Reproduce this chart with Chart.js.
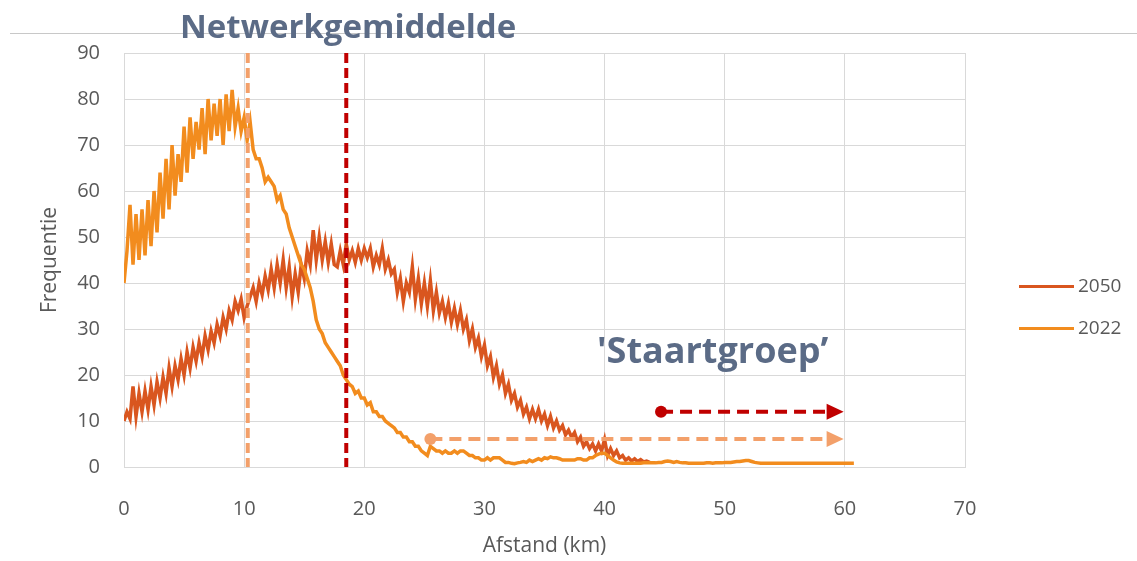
<!DOCTYPE html>
<html>
<head>
<meta charset="utf-8">
<script src="https://cdn.jsdelivr.net/npm/chart.js@4"></script>
<style>
  body { margin: 0; background: #fff; }
  #wrap { position: relative; width: 1137px; height: 561px; overflow: hidden; }
  #topline { position: absolute; left: 10px; right: 0; top: 33px; border-top: 1px solid #c8c8c8; }
  .big { position: absolute; font-family: "Open Sans", sans-serif; font-weight: bold; color: #5b6b86; white-space: nowrap; }
  #title { left: 180px; top: 3px; font-size: 33px; }
  #tail { left: 597px; top: 325px; font-size: 36px; }
  .leg { position: absolute; left: 1019px; font-family: "Open Sans", sans-serif; font-size: 19px; color: #595959; }
  .leg span { display: inline-block; width: 55px; height: 3px; vertical-align: middle; margin-right: 4px; }
  canvas { position: absolute; left: 0; top: 0; }
</style>
</head>
<body>
<div id="wrap">
  <canvas id="chart" width="1137" height="561"></canvas>
  <div id="topline"></div>
  <div id="title" class="big">Netwerkgemiddelde</div>
  <div id="tail" class="big">'Staartgroep’</div>
  <div class="leg" style="top:272px"><span style="background:#d9561f"></span>2050</div>
  <div class="leg" style="top:314px"><span style="background:#f28c1e"></span>2022</div>
</div>
<script>
// distance step between samples (km)
const stepKm = 0.25;

// Frequentie 2022, one value per 0.25 km from 0 km
const freq2022 = [
  40, 47, 57, 44, 55, 45, 56, 46, 58, 48, 60, 51, 64, 54, 67, 56,
  70, 59, 68, 62, 74, 64, 76, 67, 75, 69, 78, 68, 80, 71, 79, 72,
  80, 70, 81, 73, 82, 74, 78, 73, 76, 71, 75, 69, 67, 67, 65, 62,
  63, 62, 61, 58, 59, 56, 55, 52, 50, 48, 46, 44, 43, 41, 39, 36,
  32, 30, 29, 27, 26, 25, 24, 23, 22, 20, 19, 18, 17.5, 16, 16.5, 15,
  15, 13.5, 14, 12, 12, 11, 11, 10, 9.5, 9, 8.5, 7.5, 7.5, 6.5, 6.5, 5.5,
  5.5, 4.5, 4.5, 3.5, 3, 2.5, 4.5, 4, 3.5, 3.5, 3, 3.5, 3, 3, 3.5, 3,
  3.5, 3.5, 3, 2.5, 2.5, 2, 2, 1.5, 1.5, 2, 1.5, 2, 2, 2, 1.5, 1,
  1, 0.8, 0.7, 0.9, 1, 1.2, 1, 1.5, 1.2, 1.5, 1.8, 1.5, 2, 1.8, 2.2, 2,
  2, 1.8, 1.5, 1.5, 1.5, 1.5, 1.5, 1.8, 1.8, 1.5, 1.5, 2, 2, 2.5, 2.8, 3,
  3, 2.5, 2, 1.5, 1.1, 0.9, 0.8, 0.8, 0.8, 0.8, 0.8, 0.8, 0.8, 0.9, 0.9, 0.9,
  0.9, 0.9, 1, 1, 1.2, 1.3, 1.2, 1, 1.2, 1, 0.9, 0.9, 0.8, 0.8, 0.8, 0.8,
  0.8, 0.8, 0.9, 0.9, 0.8, 0.9, 0.9, 0.9, 1, 1, 1, 1.1, 1.2, 1.2, 1.3, 1.4,
  1.4, 1.2, 1, 0.9, 0.8, 0.8, 0.8, 0.8, 0.8, 0.8, 0.8, 0.8, 0.8, 0.8, 0.8, 0.8,
  0.8, 0.8, 0.8, 0.8, 0.8, 0.8, 0.8, 0.8, 0.8, 0.8, 0.8, 0.8, 0.8, 0.8, 0.8, 0.8,
  0.8, 0.8, 0.8, 0.8
];

// Frequentie 2050, one value per 0.25 km from 0 km
const freq2050 = [
  10, 12, 10.5, 17.5, 11, 16, 12, 16.5, 12.5, 17.5, 13.5, 18.5, 15, 19.5, 16, 21.5,
  17.5, 22, 19, 23.5, 20, 25, 21.5, 26, 23, 27, 24, 28.5, 25.5, 29.5, 27, 31,
  28.5, 32.5, 30, 34, 32, 36, 34, 36.5, 32.5, 35, 37, 39, 36, 40, 37.5, 41.5,
  38.5, 43, 39, 44, 40, 45, 39, 43.5, 37, 42, 38, 44, 41, 47, 44, 51.5,
  45, 50, 45, 49, 44.5, 48.5, 44, 43.5, 47, 44, 48.5, 45, 47, 44.5, 47.5, 45,
  47.5, 45.5, 47.5, 43.5, 46, 44, 47.5, 43, 45, 42, 43, 38, 41, 36, 40, 38,
  43.5, 36.5, 41, 35.5, 40, 35, 40.5, 34, 38, 33.5, 36, 32.5, 35.5, 31.5, 34.5, 31,
  34, 30, 32, 27.5, 30, 26, 28, 24, 26.5, 22, 24, 19.5, 22, 18, 20, 16,
  18, 14.5, 16, 13, 14.5, 11.5, 13, 10.5, 12.5, 10.5, 12.5, 10, 11.5, 9, 11, 8.5,
  10, 8, 9, 7, 8, 6.5, 7.5, 5.5, 6.5, 4.5, 5.5, 4, 5, 3.5, 5, 3.5,
  6, 2.5, 4, 2.5, 3.5, 2, 2.5, 1.5, 2, 1.3, 1.8, 1.2, 1.6, 1.1, 1.3, 1.0
];

// x axis ticks (km) and y axis ticks
const xTicks = [0, 10, 20, 30, 40, 50, 60, 70];
const yTicks = [0, 10, 20, 30, 40, 50, 60, 70, 80, 90];

// network averages: [km, colour]
const meanLines = [[10.3, '#f3a06a'], [18.5, '#c00000']];
// tail group arrows: [from km, to km, frequentie, colour]
const tailArrows = [[44.7, 59.9, 12.0, '#c00000'], [25.5, 59.9, 6.1, '#f3a06a']];

const toPoints = arr => arr.map((v, i) => ({ x: i * stepKm, y: v }));

const overlay = {
  id: 'overlay',
  afterDatasetsDraw(chart) {
    const { ctx, chartArea: a, scales: { x, y } } = chart;
    ctx.save();
    meanLines.forEach(([km, col]) => {
      const px = x.getPixelForValue(km);
      ctx.strokeStyle = col;
      ctx.lineWidth = 4;
      ctx.setLineDash([10, 5]);
      ctx.beginPath();
      ctx.moveTo(px, a.top);
      ctx.lineTo(px, a.bottom);
      ctx.stroke();
    });
    tailArrows.forEach(([k0, k1, v, col]) => {
      const x0 = x.getPixelForValue(k0), x1 = x.getPixelForValue(k1), py = y.getPixelForValue(v);
      ctx.strokeStyle = col;
      ctx.fillStyle = col;
      ctx.lineWidth = 4;
      ctx.setLineDash([12, 7]);
      ctx.beginPath();
      ctx.moveTo(x0, py);
      ctx.lineTo(x1 - 16, py);
      ctx.stroke();
      ctx.setLineDash([]);
      ctx.beginPath();
      ctx.arc(x0, py, 6, 0, Math.PI * 2);
      ctx.fill();
      ctx.beginPath();
      ctx.moveTo(x1, py);
      ctx.lineTo(x1 - 17, py - 8);
      ctx.lineTo(x1 - 17, py + 8);
      ctx.closePath();
      ctx.fill();
    });
    ctx.restore();
  }
};

const tickFont = { family: 'Open Sans', size: 20 };
const titleFont = { family: 'Open Sans', size: 21 };

new Chart(document.getElementById('chart'), {
  type: 'line',
  data: {
    datasets: [
      { label: '2022', data: toPoints(freq2022), borderColor: '#f28c1e', borderWidth: 3.5, pointRadius: 0, tension: 0 },
      { label: '2050', data: toPoints(freq2050), borderColor: '#d9561f', borderWidth: 3.5, pointRadius: 0, tension: 0 }
    ]
  },
  options: {
    responsive: false,
    animation: false,
    layout: { padding: { top: 53, right: 172, left: 0, bottom: 0 } },
    plugins: { legend: { display: false }, tooltip: { enabled: false } },
    scales: {
      x: {
        type: 'linear', min: 0, max: 70,
        afterBuildTicks: s => { s.ticks = xTicks.map(v => ({ value: v })); },
        afterFit: s => { s.height = 94; },
        grid: { color: '#d9d9d9', drawTicks: false },
        border: { color: '#d9d9d9' },
        ticks: { color: '#595959', font: tickFont, padding: 30 },
        title: { display: true, text: 'Afstand (km)', color: '#595959', font: titleFont, padding: { top: 0, bottom: 2 } }
      },
      y: {
        min: 0, max: 90,
        afterBuildTicks: s => { s.ticks = yTicks.map(v => ({ value: v })); },
        afterFit: s => { s.width = 124; },
        grid: { color: '#d9d9d9', drawTicks: false },
        border: { color: '#d9d9d9' },
        ticks: { color: '#595959', font: tickFont, padding: 24 },
        title: { display: true, text: 'Frequentie', color: '#595959', font: titleFont, padding: { top: 37, bottom: 0 } }
      }
    }
  },
  plugins: [overlay]
});
</script>
</body>
</html>
